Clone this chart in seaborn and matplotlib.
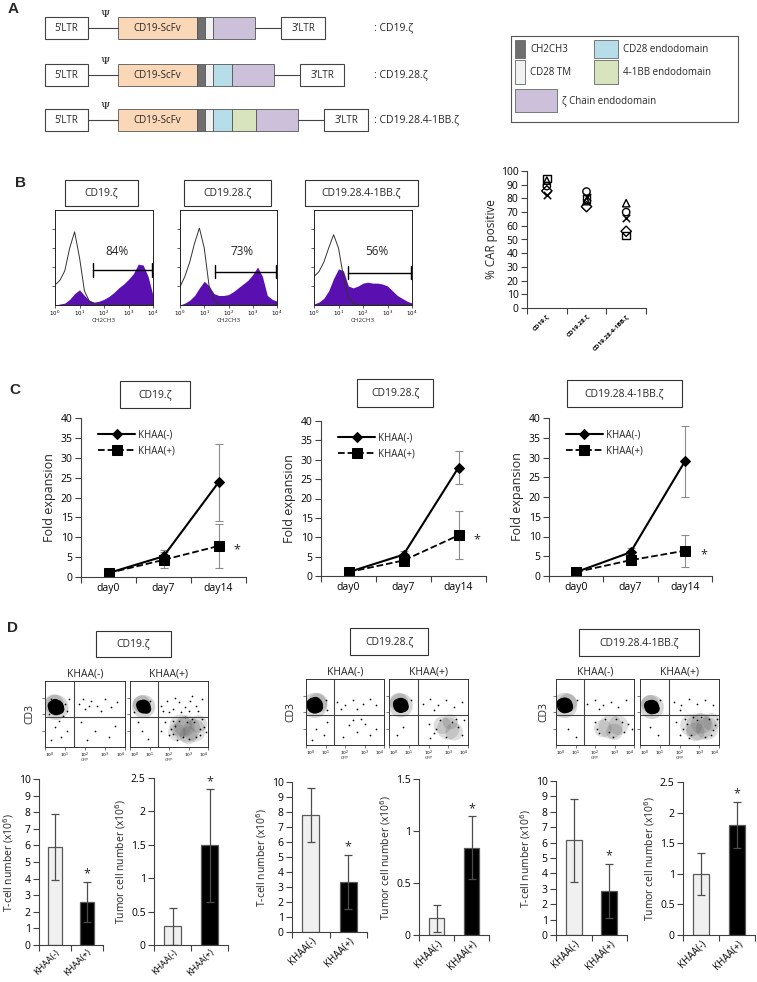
import matplotlib
matplotlib.use('Agg')
import matplotlib.pyplot as plt
from matplotlib.patches import Rectangle
import seaborn as sns

W, H = 757, 982

# ---------------- data ----------------
constructs = ['CD19.ζ', 'CD19.28.ζ', 'CD19.28.4-1BB.ζ']

# A: CAR domain order and schematic widths
construct_domains = [
    ['ScFv', 'CH2CH3', 'TM', 'zeta'],
    ['ScFv', 'CH2CH3', 'TM', 'CD28', 'zeta'],
    ['ScFv', 'CH2CH3', 'TM', 'CD28', '41BB', 'zeta'],
]
domain_width = {'ScFv': 79, 'CH2CH3': 8, 'TM': 8, 'CD28': 19, '41BB': 24, 'zeta': 42}
domain_color = {'ScFv': '#fad7b6', 'CH2CH3': '#6f6f6f', 'TM': '#f2f2f2',
                'CD28': '#b7dde8', '41BB': '#d7e4bd', 'zeta': '#ccc0da'}

# B: flow histograms (x in decades 0..4, step 0.2)
hist_x = [0.0, 0.2, 0.4, 0.6, 0.8, 1.0, 1.2, 1.4, 1.6, 1.8, 2.0,
          2.2, 2.4, 2.6, 2.8, 3.0, 3.2, 3.4, 3.6, 3.8, 4.0]
hist_ctrl = [
    [0.21, 0.26, 0.36, 0.60, 0.77, 0.50, 0.15, 0.04, 0.01, 0, 0, 0, 0, 0, 0, 0, 0, 0, 0, 0, 0],
    [0.19, 0.30, 0.45, 0.65, 0.81, 0.60, 0.20, 0.05, 0.01, 0, 0, 0, 0, 0, 0, 0, 0, 0, 0, 0, 0],
    [0.30, 0.35, 0.45, 0.60, 0.74, 0.60, 0.30, 0.08, 0.02, 0, 0, 0, 0, 0, 0, 0, 0, 0, 0, 0, 0],
]
hist_car = [
    [0, 0.01, 0.02, 0.06, 0.12, 0.16, 0.10, 0.05, 0.03, 0.04, 0.06,
     0.09, 0.13, 0.18, 0.22, 0.27, 0.33, 0.43, 0.42, 0.30, 0.10],
    [0, 0.02, 0.05, 0.10, 0.18, 0.25, 0.20, 0.12, 0.10, 0.10, 0.11,
     0.14, 0.18, 0.22, 0.26, 0.32, 0.40, 0.30, 0.10, 0.06, 0.04],
    [0.01, 0.03, 0.07, 0.15, 0.28, 0.38, 0.36, 0.20, 0.18, 0.20, 0.23,
     0.24, 0.23, 0.23, 0.22, 0.20, 0.15, 0.10, 0.07, 0.04, 0.02],
]
gate_start = [1.55, 1.44, 1.40]
gate_level = [0.37, 0.35, 0.34]
car_pct = ['84%', '73%', '56%']

# B: % CAR positive per donor
donor_markers = ['s', '^', 'o', 'D', 'x']
car_positive = [
    [94.5, 79.5, 53.0],
    [93.0, 78.0, 76.5],
    [89.0, 85.0, 70.0],
    [85.5, 74.0, 56.0],
    [82.5, 81.0, 65.5],
]

# C: fold expansion
days = ['day0', 'day7', 'day14']
fold_neg = [[1.0, 5.2, 23.8], [1.0, 5.5, 28.0], [1.0, 6.0, 29.0]]
fold_neg_err = [[0.2, 1.5, 9.7], [0.2, 1.0, 4.2], [0.2, 1.0, 9.0]]
fold_pos = [[1.0, 4.3, 7.8], [1.0, 4.0, 10.5], [1.0, 4.0, 6.4]]
fold_pos_err = [[0.2, 2.0, 5.5], [0.2, 0.8, 6.2], [0.2, 1.2, 4.0]]

# D: dot plots (decades), dense cores, diffuse clouds, single events
khaa = ['KHAA(-)', 'KHAA(+)']
dot_core = [
    [(0.55, 2.4, 130), (0.4, 2.5, 60), (0.7, 2.3, 60), (0.5, 2.65, 40)],
    [(0.7, 2.45, 100), (0.55, 2.55, 45), (0.85, 2.3, 45)],
    [(0.45, 2.4, 140), (0.3, 2.5, 60), (0.6, 2.3, 60), (0.5, 2.65, 40)],
    [(0.6, 2.4, 120), (0.45, 2.5, 50), (0.75, 2.3, 50)],
    [(0.45, 2.4, 130), (0.3, 2.5, 60), (0.6, 2.3, 60)],
    [(0.6, 2.3, 110), (0.45, 2.4, 50), (0.75, 2.2, 50)],
]
dot_halo = [
    [(0.55, 2.4, 330), (0.45, 2.6, 200)],
    [(0.7, 2.45, 280), (0.6, 2.6, 160)],
    [(0.45, 2.4, 330), (0.6, 2.55, 200)],
    [(0.6, 2.4, 300), (0.5, 2.6, 180)],
    [(0.45, 2.4, 330), (0.6, 2.55, 180)],
    [(0.6, 2.3, 300), (0.5, 2.5, 160)],
]
dot_cloud = [
    [],
    [(2.9, 1.1, 380), (2.6, 1.3, 260), (3.3, 1.0, 260), (2.4, 0.9, 160), (3.5, 1.4, 160),
     (3.0, 0.7, 160), (2.8, 1.2, 200)],
    [],
    [(3.0, 1.0, 260), (2.7, 1.2, 160), (3.3, 0.8, 160), (3.1, 1.4, 120)],
    [(2.8, 1.1, 300), (3.2, 1.2, 200), (2.4, 1.0, 160), (3.0, 0.8, 140)],
    [(3.0, 1.1, 380), (2.6, 1.2, 260), (3.4, 1.0, 260), (2.8, 0.8, 180), (3.6, 1.4, 160),
     (3.1, 1.3, 220)],
]
dot_events = [
    [(1.7, 2.6), (2.0, 2.3), (2.3, 2.8), (2.6, 2.5), (3.0, 2.9), (3.3, 2.4), (1.9, 2.9),
     (2.8, 2.2), (3.6, 2.7), (2.2, 2.5), (0.2, 2.0), (1.0, 2.6), (1.1, 2.2), (0.3, 2.9),
     (0.9, 1.9), (1.2, 2.9), (0.5, 1.2), (0.8, 0.6), (1.1, 1.0), (0.3, 0.4), (2.5, 1.0),
     (3.2, 0.6), (2.1, 0.4), (3.5, 1.3), (1.8, 1.5), (0.7, 1.6)],
    [(1.6, 2.5), (1.9, 2.8), (2.2, 2.3), (2.5, 2.7), (2.8, 2.4), (3.1, 2.8), (3.4, 2.5),
     (3.7, 2.9), (2.0, 2.1), (2.6, 2.1), (3.0, 2.2), (3.5, 2.2), (1.7, 2.2), (2.3, 3.0),
     (3.2, 3.1), (1.8, 1.5), (2.0, 0.7), (2.2, 1.6), (2.4, 0.4), (2.7, 0.6), (3.0, 0.5),
     (3.6, 0.7), (3.8, 1.2), (3.7, 1.7), (3.2, 1.7), (2.8, 1.8), (2.1, 1.1), (3.9, 0.9),
     (1.6, 1.0), (0.6, 1.0), (0.9, 0.5), (0.4, 1.5), (1.0, 2.8), (0.2, 2.1),
     (2.3, 1.3), (2.5, 1.6), (2.9, 1.5), (3.4, 0.6), (3.6, 1.1), (2.2, 0.8), (3.3, 1.5)],
    [(1.6, 2.6), (2.0, 2.4), (2.4, 2.7), (2.9, 2.5), (3.3, 2.8), (1.8, 2.2), (2.6, 2.2),
     (3.6, 2.4), (2.2, 1.2), (2.6, 0.8), (3.0, 1.3), (3.3, 0.6), (2.8, 1.6), (1.9, 0.5),
     (3.6, 1.0), (2.4, 1.5), (0.5, 1.0), (0.9, 0.6), (1.1, 1.4), (0.3, 0.3), (1.0, 2.7),
     (1.1, 2.1)],
    [(1.7, 2.5), (2.1, 2.8), (2.5, 2.4), (2.9, 2.7), (3.3, 2.3), (3.7, 2.6), (2.3, 2.1),
     (2.0, 1.3), (2.3, 0.7), (2.6, 1.5), (2.9, 0.5), (3.2, 1.4), (3.5, 1.1), (3.7, 0.6),
     (2.4, 1.0), (3.8, 1.5), (2.1, 0.4), (3.4, 1.6), (0.7, 1.1), (0.4, 0.6), (1.1, 2.7)],
    [(1.6, 2.5), (2.0, 2.7), (2.4, 2.4), (2.8, 2.6), (3.2, 2.3), (3.6, 2.7), (2.2, 2.2),
     (2.0, 1.4), (2.2, 0.7), (2.5, 1.6), (2.9, 0.5), (3.1, 1.6), (3.5, 0.8), (3.7, 1.3),
     (3.9, 1.0), (2.1, 1.0), (2.7, 0.8), (3.4, 1.4), (0.6, 1.0), (1.0, 0.5), (1.1, 2.7)],
    [(1.7, 2.6), (2.1, 2.4), (2.5, 2.8), (2.9, 2.5), (3.3, 2.7), (3.7, 2.4), (2.0, 2.1),
     (1.8, 1.4), (2.0, 0.6), (2.3, 1.6), (2.5, 0.4), (3.1, 1.7), (3.6, 0.6), (3.8, 1.2),
     (3.9, 1.6), (2.2, 1.0), (2.7, 1.7), (3.3, 0.5), (0.5, 1.1), (0.9, 0.6), (1.0, 2.7),
     (2.4, 1.3), (2.9, 1.5), (3.5, 1.6), (3.7, 0.9), (2.6, 0.6)],
]

# D: cell counts (x10^6)
tcell = [[5.9, 2.6], [7.8, 3.35], [6.15, 2.85]]
tcell_err = [[2.0, 1.2], [1.8, 1.8], [2.7, 1.77]]
tumor = [[0.28, 1.49], [0.16, 0.84], [1.0, 1.8]]
tumor_err = [[0.28, 0.84], [0.13, 0.30], [0.34, 0.38]]
tumor_max = [2.5, 1.5, 2.5]

# ---------------- figure ----------------
sns.set_theme(style='white')
plt.rcParams['font.family'] = ['Open Sans', 'DejaVu Sans']
plt.rcParams['axes.edgecolor'] = '#404040'
plt.rcParams['axes.linewidth'] = 0.8
plt.rcParams['xtick.color'] = '#404040'
plt.rcParams['ytick.color'] = '#404040'
plt.rcParams['xtick.labelcolor'] = 'black'
plt.rcParams['ytick.labelcolor'] = 'black'

fig = plt.figure(figsize=(W / 100, H / 100), dpi=100)
fig.patch.set_facecolor('white')

ov = fig.add_axes([0, 0, 1, 1])
ov.set_xlim(0, W)
ov.set_ylim(H, 0)
ov.axis('off')


def px_axes(x0, y0, x1, y1):
    return fig.add_axes([x0 / W, 1 - y1 / H, (x1 - x0) / W, (y1 - y0) / H])


def title_box(x0, y0, x1, y1, text, fs=7.5):
    ov.add_patch(Rectangle((x0, y0), x1 - x0, y1 - y0, fill=False, ec='#333333', lw=0.8))
    ov.text((x0 + x1) / 2, (y0 + y1) / 2, text, ha='center', va='center', fontsize=fs)


def excel_ticks(ax, n):
    ax.set_xlim(-0.5, n - 0.5)
    ax.set_xticks(range(n))
    ax.set_xticks([i - 0.5 for i in range(n + 1)], minor=True)
    ax.tick_params(axis='x', which='major', length=0, pad=4)
    ax.tick_params(axis='x', which='minor', length=4, width=0.8, direction='out', bottom=True)
    ax.tick_params(axis='y', which='major', length=4, width=0.8, direction='out', left=True, pad=2)
    sns.despine(ax=ax)


# panel letters
for letter, (lx, ly) in zip('ABCD', [(13, 9), (20, 183), (15, 390), (13, 628)]):
    ov.text(lx, ly, letter, fontsize=11, fontweight='bold', family='Liberation Sans',
            ha='center', va='center')

# ---- A: schematic ----
row_y = [28, 75, 120]
for i, doms in enumerate(construct_domains):
    yc = row_y[i]
    ov.add_patch(Rectangle((45, yc - 11), 43, 22, fc='white', ec='#444444', lw=0.8))
    ov.text(66.5, yc, '5’LTR', ha='center', va='center', fontsize=7)
    ov.plot([88, 118], [yc, yc], color='#444444', lw=0.8)
    ov.text(105, yc - 14, 'Ψ', ha='center', va='center', fontsize=7.5, family='DejaVu Serif')
    x = 118
    for d in doms:
        w = domain_width[d]
        ov.add_patch(Rectangle((x, yc - 11), w, 22, fc=domain_color[d], ec='#555555', lw=0.6))
        if d == 'ScFv':
            ov.text(x + w / 2, yc, 'CD19-ScFv', ha='center', va='center', fontsize=7)
        x += w
    ov.plot([x, x + 26], [yc, yc], color='#444444', lw=0.8)
    ov.add_patch(Rectangle((x + 26, yc - 11), 44, 22, fc='white', ec='#444444', lw=0.8))
    ov.text(x + 48, yc, '3’LTR', ha='center', va='center', fontsize=7)
    ov.text(374, yc, ': ' + constructs[i], ha='left', va='center', fontsize=7.5)

# A legend
ov.add_patch(Rectangle((511, 36), 227, 86, fill=False, ec='#555555', lw=0.8))
legend_items = [('CH2CH3', 'CH2CH3', 515, 40, 10, 18),
                ('CD28', 'CD28 endodomain', 594, 40, 24, 18),
                ('TM', 'CD28 TM', 515, 60, 10, 24),
                ('41BB', '4-1BB endodomain', 594, 60, 24, 24),
                ('zeta', 'ζ Chain endodomain', 515, 89, 42, 23)]
for key, lab, sx, sy, sw, sh in legend_items:
    ov.add_patch(Rectangle((sx, sy), sw, sh, fc=domain_color[key], ec='#666666', lw=0.6))
    ov.text(sx + sw + 5, sy + sh / 2, lab, ha='left', va='center', fontsize=7)

# ---- B: histograms ----
hist_boxes = [(55, 210, 153, 305), (180, 210, 277, 305), (314, 210, 412, 305)]
hist_titles = [(65, 180, 138, 206), (184, 180, 271, 206), (305, 180, 418, 206)]
for i in range(3):
    title_box(*hist_titles[i], constructs[i])
    ax = px_axes(*hist_boxes[i])
    ax.fill_between(hist_x, hist_car[i], color='#5a10b0', lw=0)
    ax.plot(hist_x, hist_ctrl[i], color='#333333', lw=0.7)
    ax.plot([gate_start[i], 4.0], [gate_level[i]] * 2, color='black', lw=1)
    for gx in (gate_start[i], 3.97):
        ax.plot([gx, gx], [gate_level[i] - 0.07, gate_level[i] + 0.07], color='black', lw=1)
    ax.text(2.55, 0.56, car_pct[i], ha='center', va='center', fontsize=8.5)
    ax.set_xlim(0, 4)
    ax.set_ylim(0, 1.0)
    ax.set_xticks(range(5))
    ax.set_xticklabels(['$10^{%d}$' % k for k in range(5)], fontsize=4)
    ax.set_yticks([0.2, 0.4, 0.6, 0.8])
    ax.set_yticklabels([])
    ax.tick_params(axis='both', which='major', length=2.5, width=0.6, direction='out',
                   bottom=True, left=True, pad=0.5)
    ax.set_xlabel('CH2CH3', fontsize=4.5, labelpad=0)
    for sp in ax.spines.values():
        sp.set_color('#222222')
        sp.set_linewidth(0.7)

# ---- B: % CAR positive ----
ax = px_axes(527, 171, 646, 308)
for m, vals in zip(donor_markers, car_positive):
    if m == 'x':
        sns.scatterplot(x=[0, 1, 2], y=vals, marker='x', color='black', s=28,
                        linewidth=1.1, ax=ax)
    else:
        sns.scatterplot(x=[0, 1, 2], y=vals, marker=m, facecolor='none', edgecolor='black',
                        s=28, linewidth=1.0, ax=ax)
ax.set_ylim(0, 100)
ax.set_yticks(range(0, 101, 10))
ax.tick_params(axis='y', labelsize=7.5)
excel_ticks(ax, 3)
ax.set_xticklabels(constructs, rotation=45, ha='right', rotation_mode='anchor',
                   fontsize=4.5, fontweight='bold')
ax.set_ylabel('% CAR positive', fontsize=8.5, labelpad=2)

# ---- C: fold expansion ----
c_boxes = [(81, 418, 246, 577), (321, 421, 486, 576), (549, 418, 712, 576)]
c_titles = [(120, 381, 190, 408), (357, 379, 433, 407), (567, 380, 682, 407)]
for i in range(3):
    title_box(*c_titles[i], constructs[i])
    ax = px_axes(*c_boxes[i])
    xs = [0, 1, 2]
    ax.errorbar(xs, fold_neg[i], yerr=fold_neg_err[i], fmt='none', ecolor='#8c8c8c',
                elinewidth=0.8, capsize=3, capthick=0.8)
    ax.errorbar(xs, fold_pos[i], yerr=fold_pos_err[i], fmt='none', ecolor='#8c8c8c',
                elinewidth=0.8, capsize=3, capthick=0.8)
    sns.lineplot(x=xs, y=fold_neg[i], color='black', marker='D', markersize=5,
                 markeredgecolor='black', lw=1.5, label='KHAA(-)', ax=ax)
    sns.lineplot(x=xs, y=fold_pos[i], color='black', marker='s', markersize=7,
                 markeredgecolor='black', lw=1.3, linestyle='--', label='KHAA(+)', ax=ax)
    ax.annotate('*', (2, fold_pos[i][2]), xytext=(11, -3), textcoords='offset points',
                ha='left', va='center', fontsize=9)
    ax.set_ylim(0, 40)
    ax.set_yticks(range(0, 41, 5))
    excel_ticks(ax, 3)
    ax.set_xticklabels(days, fontsize=7.5)
    ax.tick_params(axis='y', labelsize=7.5)
    ax.set_ylabel('Fold expansion', fontsize=9, labelpad=3)
    ax.legend(loc='upper left', bbox_to_anchor=(0.08, 0.95), frameon=False,
              handlelength=3.8, fontsize=7, labelspacing=0.45, borderaxespad=0,
              handletextpad=0.3)

# ---- D: dot plots ----
d_titles = [(96, 631, 171, 657), (350, 628, 428, 655), (579, 629, 699, 656)]
dot_boxes = [(45, 681, 125, 747), (130, 681, 208, 747),
             (306, 679, 384, 745), (389, 679, 468, 745),
             (556, 679, 634, 745), (640, 679, 719, 745)]
cd3_pos = [(30, 714), (291, 712), (544, 712)]
for i in range(3):
    title_box(*d_titles[i], constructs[i])
    ov.text(*cd3_pos[i], 'CD3', rotation=90, ha='center', va='center', fontsize=7.5)
for j in range(6):
    x0, y0, x1, y1 = dot_boxes[j]
    ov.text((x0 + x1) / 2, y0 - 7, khaa[j % 2], ha='center', va='center', fontsize=7.5)
    ax = px_axes(*dot_boxes[j])
    if dot_cloud[j]:
        cx, cy, cs = zip(*dot_cloud[j])
        ax.scatter(cx, cy, s=cs, color='#3a3a3a', alpha=0.16, lw=0)
    hx, hy, hs = zip(*dot_halo[j])
    ax.scatter(hx, hy, s=hs, color='#3a3a3a', alpha=0.2, lw=0)
    ex, ey = zip(*dot_events[j])
    sns.scatterplot(x=list(ex), y=list(ey), s=1.5, color='black', linewidth=0, ax=ax)
    kx, ky, ks = zip(*dot_core[j])
    ax.scatter(kx, ky, s=ks, color='black', lw=0)
    ax.axvline(1.45, color='#444444', lw=0.8)
    ax.axhline(1.8, color='#444444', lw=0.8)
    ax.set_xlim(0, 4)
    ax.set_ylim(0, 4)
    ax.set_xticks(range(5))
    ticklabels = ax.set_xticklabels(['$10^{%d}$' % k for k in range(5)], fontsize=3.2)
    ticklabels[0].set_horizontalalignment('left')
    ticklabels[-1].set_horizontalalignment('right')
    ax.set_yticks([1, 2, 3])
    ax.set_yticklabels([])
    ax.tick_params(axis='both', length=2, width=0.5, direction='out', bottom=True,
                   left=True, pad=0.5)
    ax.set_xlabel('GFP', fontsize=3.2, labelpad=-1)
    for sp in ax.spines.values():
        sp.set_color('#333333')
        sp.set_linewidth(0.7)

# ---- D: bar charts ----
t_boxes = [(39, 779, 103, 945), (292, 782, 367, 932), (556, 781, 627, 935)]
u_boxes = [(154, 778, 228, 945), (419, 779, 489, 935), (683, 782, 755, 935)]
bar_colors = ['#f0f0f0', '#000000']
label_size = [6.5, 7.0, 7.0]


def bar_panel(box, vals, errs, ymax, step, ylabel, fmt, xfs):
    ax = px_axes(*box)
    sns.barplot(x=khaa, y=vals, hue=khaa, palette=bar_colors, legend=False, width=0.45,
                edgecolor='#595959', linewidth=0.9, ax=ax)
    ax.errorbar([0, 1], vals, yerr=errs, fmt='none', ecolor='#4d4d4d', elinewidth=0.9,
                capsize=3, capthick=0.9)
    ax.annotate('*', (1, vals[1] + errs[1]), xytext=(0, 1), textcoords='offset points',
                ha='center', va='bottom', fontsize=9)
    ax.set_ylim(0, ymax)
    ticks = [k * step for k in range(int(round(ymax / step)) + 1)]
    ax.set_yticks(ticks)
    ax.set_yticklabels([fmt(t) for t in ticks], fontsize=7.5)
    excel_ticks(ax, 2)
    ax.set_xticks([0, 1])
    ax.set_xticklabels(khaa, rotation=45, ha='right', rotation_mode='anchor', fontsize=xfs)
    ax.tick_params(axis='x', which='major', pad=2)
    ax.set_xlabel('')
    ax.set_ylabel(ylabel, fontsize=7.5, labelpad=2)


for i in range(3):
    bar_panel(t_boxes[i], tcell[i], tcell_err[i], 10, 1, 'T-cell number (x10$^6$)',
              lambda t: '%d' % t, label_size[i])
    bar_panel(u_boxes[i], tumor[i], tumor_err[i], tumor_max[i], 0.5,
              'Tumor cell number (x10$^6$)', lambda t: ('%g' % t), label_size[i])

fig.savefig('out.png', dpi=100, facecolor='white')
